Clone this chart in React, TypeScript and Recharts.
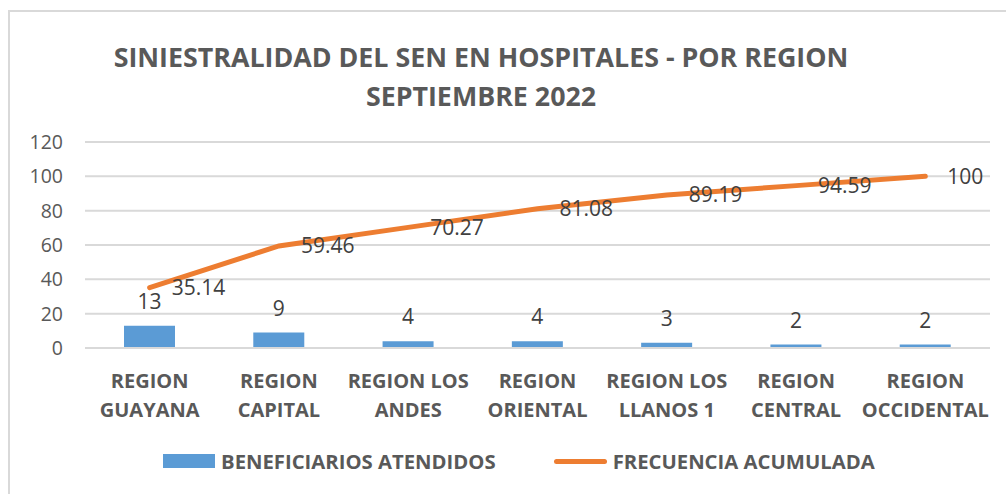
import {
  ComposedChart,
  Bar,
  Line,
  XAxis,
  YAxis,
  CartesianGrid,
  LabelList,
} from "recharts";

const categoryLines = [
  ["REGION", "GUAYANA"],
  ["REGION", "CAPITAL"],
  ["REGION LOS", "ANDES"],
  ["REGION", "ORIENTAL"],
  ["REGION LOS", "LLANOS 1"],
  ["REGION", "CENTRAL"],
  ["REGION", "OCCIDENTAL"],
];
const beneficiarios = [13, 9, 4, 4, 3, 2, 2];
const frecuencia = [35.14, 59.46, 70.27, 81.08, 89.19, 94.59, 100];
const yTicks = [0, 20, 40, 60, 80, 100, 120];

const data = categoryLines.map((lines, i) => ({
  region: lines.join(" "),
  beneficiarios: beneficiarios[i],
  frecuencia: frecuencia[i],
}));

const FONT = "'Open Sans', 'Liberation Sans', sans-serif";
const TEXT = "#595959";
const BLUE = "#5B9BD5";
const ORANGE = "#ED7D31";

function CategoryTick({ x, y, index }: any) {
  const lines = categoryLines[index] || [];
  return (
    <g transform={`translate(${x},${y})`}>
      {lines.map((line, i) => (
        <text
          key={i}
          x={0}
          y={32 + i * 29}
          textAnchor="middle"
          fill={TEXT}
          fontSize={20}
          fontWeight={700}
          fontFamily={FONT}
        >
          {line}
        </text>
      ))}
    </g>
  );
}

function ChartLegend() {
  const item = { display: "flex", alignItems: "center" } as const;
  const label = {
    fontFamily: FONT,
    fontSize: 20.3,
    fontWeight: 700,
    color: TEXT,
    marginLeft: 6,
  } as const;
  return (
    <div style={{ display: "flex", gap: 58 }}>
      <div style={item}>
        <span style={{ width: 52, height: 14, background: BLUE, display: "inline-block" }} />
        <span style={label}>BENEFICIARIOS ATENDIDOS</span>
      </div>
      <div style={item}>
        <span
          style={{
            width: 53,
            height: 5,
            borderRadius: 3,
            background: ORANGE,
            display: "inline-block",
          }}
        />
        <span style={label}>FRECUENCIA ACUMULADA</span>
      </div>
    </div>
  );
}

export default function App() {
  return (
    <div style={{ position: "fixed", left: 0, top: 0, width: 1006, height: 494, background: "#fff", overflow: "hidden" }}>
      <div
        style={{
          position: "absolute",
          left: 8,
          top: 10,
          width: 1020,
          height: 500,
          border: "2px solid #D9D9D9",
        }}
      />
      <div
        style={{
          position: "absolute",
          left: 0,
          width: 962,
          top: 37,
          textAlign: "center",
          fontFamily: FONT,
          fontWeight: 700,
          fontSize: 26.8,
          lineHeight: "39px",
          color: TEXT,
        }}
      >
        SINIESTRALIDAD DEL SEN EN HOSPITALES - POR REGION
        <br />
        SEPTIEMBRE 2022
      </div>
      <div style={{ position: "absolute", left: 0, top: 0 }}>
        <ComposedChart
          width={1006}
          height={494}
          data={data}
          margin={{ top: 142, left: 25, right: 16, bottom: 66 }}
        >
          <CartesianGrid vertical={false} stroke="#D9D9D9" strokeWidth={2} />
          <XAxis
            dataKey="region"
            axisLine={{ stroke: "#D9D9D9", strokeWidth: 2 }}
            tickLine={false}
            tick={<CategoryTick />}
            interval={0}
            height={80}
          />
          <YAxis
            width={60}
            domain={[0, 120]}
            ticks={yTicks}
            axisLine={false}
            tickLine={false}
            tickSize={0}
            tickMargin={22}
            tick={{ fill: TEXT, fontSize: 19.5, fontFamily: FONT }}
          />
          <Bar dataKey="beneficiarios" fill={BLUE} barSize={51} isAnimationActive={false}>
            <LabelList
              dataKey="beneficiarios"
              position="top"
              offset={17}
              fill="#404040"
              fontSize={21}
              fontFamily={FONT}
            />
          </Bar>
          <Line
            dataKey="frecuencia"
            stroke={ORANGE}
            strokeWidth={5}
            strokeLinecap="round"
            dot={false}
            activeDot={false}
            type="linear"
            isAnimationActive={false}
          >
            <LabelList
              dataKey="frecuencia"
              position="right"
              offset={22}
              fill="#404040"
              fontSize={21}
              fontFamily={FONT}
            />
          </Line>
        </ComposedChart>
      </div>
      <div style={{ position: "absolute", left: 163, top: 447 }}>
        <ChartLegend />
      </div>
    </div>
  );
}
